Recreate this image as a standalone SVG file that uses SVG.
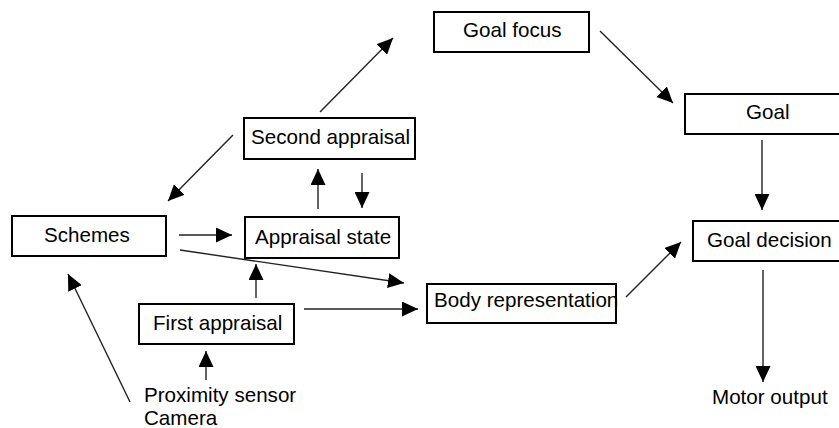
<svg xmlns="http://www.w3.org/2000/svg" width="839" height="428" viewBox="0 0 839 428">
  <style>
    .box { fill: #ffffff; stroke: #000000; stroke-width: 2; }
    .lbl { font-family: "Liberation Sans", Arial, sans-serif; font-size: 20.6px; fill: #000000; }
    .edge { stroke: #222222; stroke-width: 1.4; fill: none; marker-end: url(#head); }
  </style>
  <defs>
    <marker id="head" markerUnits="userSpaceOnUse" markerWidth="16" markerHeight="15" refX="16" refY="7.5" orient="auto">
      <path d="M0,0 L16,7.5 L0,15 Z" fill="#000000"/>
    </marker>
  </defs>

  <rect width="839" height="428" fill="#ffffff"/>

  <g id="connectors">
    <line class="edge" x1="320" y1="112" x2="393" y2="38"/>
    <line class="edge" x1="233" y1="135" x2="168" y2="201"/>
    <line class="edge" x1="318" y1="209" x2="318" y2="169"/>
    <line class="edge" x1="362" y1="173" x2="362" y2="208"/>
    <line class="edge" x1="600" y1="31" x2="673" y2="103"/>
    <line class="edge" x1="762" y1="140" x2="762" y2="210"/>
    <line class="edge" x1="179" y1="235" x2="232" y2="235"/>
    <line class="edge" x1="180" y1="250" x2="404" y2="283"/>
    <line class="edge" x1="256" y1="298" x2="256" y2="264"/>
    <line class="edge" x1="304" y1="309" x2="418" y2="309"/>
    <line class="edge" x1="626" y1="297" x2="681" y2="242"/>
    <line class="edge" x1="763" y1="270" x2="763" y2="382"/>
    <line class="edge" x1="130" y1="402" x2="68" y2="274"/>
    <line class="edge" x1="206" y1="380" x2="206" y2="351"/>
  </g>

  <g id="goal-focus">
    <rect class="box" x="434" y="12" width="155" height="40"/>
    <text class="lbl" x="463" y="37">Goal focus</text>
  </g>
  <g id="goal">
    <rect class="box" x="685" y="94" width="160" height="40"/>
    <text class="lbl" x="746" y="119">Goal</text>
  </g>
  <g id="second-appraisal">
    <rect class="box" x="244" y="118" width="171" height="41"/>
    <text class="lbl" x="251" y="144">Second appraisal</text>
  </g>
  <g id="schemes">
    <rect class="box" x="12" y="216" width="154" height="40"/>
    <text class="lbl" x="44" y="242">Schemes</text>
  </g>
  <g id="appraisal-state">
    <rect class="box" x="245" y="217" width="154" height="41"/>
    <text class="lbl" x="255" y="244">Appraisal state</text>
  </g>
  <g id="goal-decision">
    <rect class="box" x="693" y="221" width="160" height="40"/>
    <text class="lbl" x="707" y="247">Goal decision</text>
  </g>
  <g id="body-representation">
    <rect class="box" x="427" y="284" width="189" height="39"/>
    <text class="lbl" x="434" y="307">Body representation</text>
  </g>
  <g id="first-appraisal">
    <rect class="box" x="139" y="304" width="155" height="40"/>
    <text class="lbl" x="153" y="330">First appraisal</text>
  </g>
  <g id="sensors">
    <text class="lbl" x="144" y="402">Proximity sensor</text>
    <text class="lbl" x="144" y="425">Camera</text>
  </g>
  <g id="motor-output">
    <text class="lbl" x="712" y="404">Motor output</text>
  </g>
</svg>
